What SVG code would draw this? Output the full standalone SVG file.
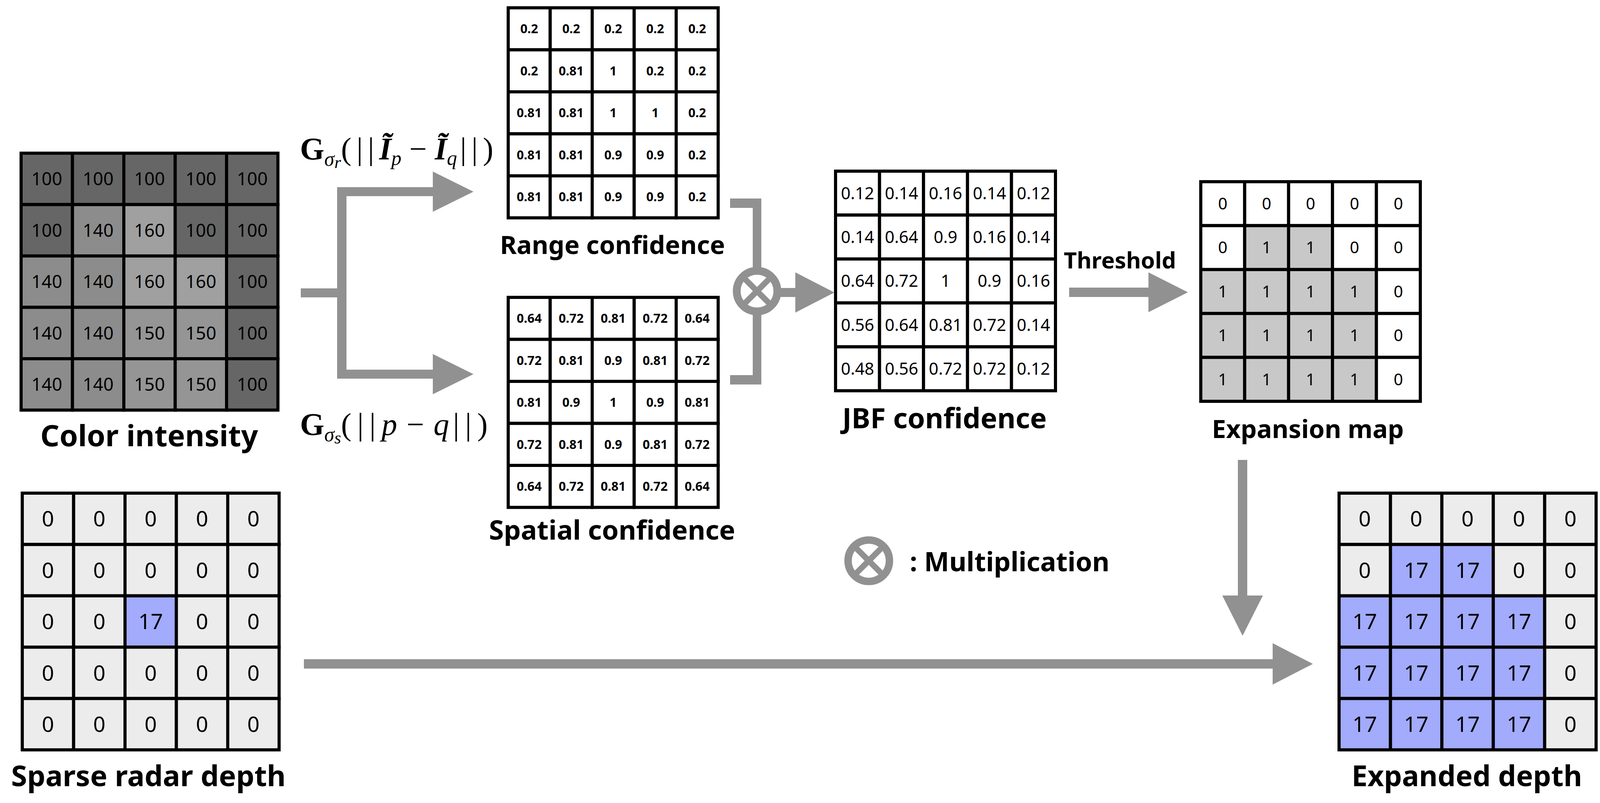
<svg xmlns="http://www.w3.org/2000/svg" width="4235" height="2055" viewBox="0 0 4235 2055">
<style>
.c{stroke:#000;stroke-width:8}
.w{fill:#fff}.lg{fill:#ececec}.bl{fill:#a2abfc}.eg{fill:#c8c8c8}
.g100{fill:#666666}.g140{fill:#8c8c8c}.g150{fill:#959595}.g160{fill:#a0a0a0}
.n{font-family:"Noto Sans","DejaVu Sans",sans-serif;text-anchor:middle;fill:#000}
.b{font-weight:700}
.lbl{font-family:"Noto Sans","DejaVu Sans",sans-serif;font-weight:700;text-anchor:middle;fill:#000}
.math{font-family:"Liberation Serif","Times New Roman",serif;fill:#000}
.arrow{fill:#919191}
.ox{fill:none;stroke:#919191}
</style>
<rect width="4235" height="2055" fill="#fff"/>

<g id="color-intensity">
<g class="c">
<rect class="g100" x="54" y="392" width="131.5" height="131.5"/><rect class="g100" x="185.5" y="392" width="131.5" height="131.5"/><rect class="g100" x="317" y="392" width="131.5" height="131.5"/><rect class="g100" x="448.5" y="392" width="131.5" height="131.5"/><rect class="g100" x="580" y="392" width="131.5" height="131.5"/>
<rect class="g100" x="54" y="523.5" width="131.5" height="131.5"/><rect class="g140" x="185.5" y="523.5" width="131.5" height="131.5"/><rect class="g160" x="317" y="523.5" width="131.5" height="131.5"/><rect class="g100" x="448.5" y="523.5" width="131.5" height="131.5"/><rect class="g100" x="580" y="523.5" width="131.5" height="131.5"/>
<rect class="g140" x="54" y="655" width="131.5" height="131.5"/><rect class="g140" x="185.5" y="655" width="131.5" height="131.5"/><rect class="g160" x="317" y="655" width="131.5" height="131.5"/><rect class="g160" x="448.5" y="655" width="131.5" height="131.5"/><rect class="g100" x="580" y="655" width="131.5" height="131.5"/>
<rect class="g140" x="54" y="786.5" width="131.5" height="131.5"/><rect class="g140" x="185.5" y="786.5" width="131.5" height="131.5"/><rect class="g150" x="317" y="786.5" width="131.5" height="131.5"/><rect class="g150" x="448.5" y="786.5" width="131.5" height="131.5"/><rect class="g100" x="580" y="786.5" width="131.5" height="131.5"/>
<rect class="g140" x="54" y="918" width="131.5" height="131.5"/><rect class="g140" x="185.5" y="918" width="131.5" height="131.5"/><rect class="g150" x="317" y="918" width="131.5" height="131.5"/><rect class="g150" x="448.5" y="918" width="131.5" height="131.5"/><rect class="g100" x="580" y="918" width="131.5" height="131.5"/>
</g>
<g class="n" font-size="46">
<text x="119.75" y="474">100</text><text x="251.25" y="474">100</text><text x="382.75" y="474">100</text><text x="514.25" y="474">100</text><text x="645.75" y="474">100</text>
<text x="119.75" y="606">100</text><text x="251.25" y="606">140</text><text x="382.75" y="606">160</text><text x="514.25" y="606">100</text><text x="645.75" y="606">100</text>
<text x="119.75" y="737">140</text><text x="251.25" y="737">140</text><text x="382.75" y="737">160</text><text x="514.25" y="737">160</text><text x="645.75" y="737">100</text>
<text x="119.75" y="869">140</text><text x="251.25" y="869">140</text><text x="382.75" y="869">150</text><text x="514.25" y="869">150</text><text x="645.75" y="869">100</text>
<text x="119.75" y="1000">140</text><text x="251.25" y="1000">140</text><text x="382.75" y="1000">150</text><text x="514.25" y="1000">150</text><text x="645.75" y="1000">100</text>
</g>
<text class="lbl" x="382" y="1142" font-size="76">Color intensity</text>
</g>

<g id="range-confidence">
<g class="c w">
<rect x="1301" y="20" width="107.5" height="107.5"/><rect x="1408.5" y="20" width="107.5" height="107.5"/><rect x="1516" y="20" width="107.5" height="107.5"/><rect x="1623.5" y="20" width="107.5" height="107.5"/><rect x="1731" y="20" width="107.5" height="107.5"/>
<rect x="1301" y="127.5" width="107.5" height="107.5"/><rect x="1408.5" y="127.5" width="107.5" height="107.5"/><rect x="1516" y="127.5" width="107.5" height="107.5"/><rect x="1623.5" y="127.5" width="107.5" height="107.5"/><rect x="1731" y="127.5" width="107.5" height="107.5"/>
<rect x="1301" y="235" width="107.5" height="107.5"/><rect x="1408.5" y="235" width="107.5" height="107.5"/><rect x="1516" y="235" width="107.5" height="107.5"/><rect x="1623.5" y="235" width="107.5" height="107.5"/><rect x="1731" y="235" width="107.5" height="107.5"/>
<rect x="1301" y="342.5" width="107.5" height="107.5"/><rect x="1408.5" y="342.5" width="107.5" height="107.5"/><rect x="1516" y="342.5" width="107.5" height="107.5"/><rect x="1623.5" y="342.5" width="107.5" height="107.5"/><rect x="1731" y="342.5" width="107.5" height="107.5"/>
<rect x="1301" y="450" width="107.5" height="107.5"/><rect x="1408.5" y="450" width="107.5" height="107.5"/><rect x="1516" y="450" width="107.5" height="107.5"/><rect x="1623.5" y="450" width="107.5" height="107.5"/><rect x="1731" y="450" width="107.5" height="107.5"/>
</g>
<g class="n b" font-size="32">
<text x="1354.75" y="85">0.2</text><text x="1462.25" y="85">0.2</text><text x="1569.75" y="85">0.2</text><text x="1677.25" y="85">0.2</text><text x="1784.75" y="85">0.2</text>
<text x="1354.75" y="193">0.2</text><text x="1462.25" y="193">0.81</text><text x="1569.75" y="193">1</text><text x="1677.25" y="193">0.2</text><text x="1784.75" y="193">0.2</text>
<text x="1354.75" y="300">0.81</text><text x="1462.25" y="300">0.81</text><text x="1569.75" y="300">1</text><text x="1677.25" y="300">1</text><text x="1784.75" y="300">0.2</text>
<text x="1354.75" y="408">0.81</text><text x="1462.25" y="408">0.81</text><text x="1569.75" y="408">0.9</text><text x="1677.25" y="408">0.9</text><text x="1784.75" y="408">0.2</text>
<text x="1354.75" y="515">0.81</text><text x="1462.25" y="515">0.81</text><text x="1569.75" y="515">0.9</text><text x="1677.25" y="515">0.9</text><text x="1784.75" y="515">0.2</text>
</g>
<text class="lbl" x="1568" y="650" font-size="65">Range confidence</text>
</g>

<g id="spatial-confidence">
<g class="c w">
<rect x="1301" y="761" width="107.5" height="107.5"/><rect x="1408.5" y="761" width="107.5" height="107.5"/><rect x="1516" y="761" width="107.5" height="107.5"/><rect x="1623.5" y="761" width="107.5" height="107.5"/><rect x="1731" y="761" width="107.5" height="107.5"/>
<rect x="1301" y="868.5" width="107.5" height="107.5"/><rect x="1408.5" y="868.5" width="107.5" height="107.5"/><rect x="1516" y="868.5" width="107.5" height="107.5"/><rect x="1623.5" y="868.5" width="107.5" height="107.5"/><rect x="1731" y="868.5" width="107.5" height="107.5"/>
<rect x="1301" y="976" width="107.5" height="107.5"/><rect x="1408.5" y="976" width="107.5" height="107.5"/><rect x="1516" y="976" width="107.5" height="107.5"/><rect x="1623.5" y="976" width="107.5" height="107.5"/><rect x="1731" y="976" width="107.5" height="107.5"/>
<rect x="1301" y="1083.5" width="107.5" height="107.5"/><rect x="1408.5" y="1083.5" width="107.5" height="107.5"/><rect x="1516" y="1083.5" width="107.5" height="107.5"/><rect x="1623.5" y="1083.5" width="107.5" height="107.5"/><rect x="1731" y="1083.5" width="107.5" height="107.5"/>
<rect x="1301" y="1191" width="107.5" height="107.5"/><rect x="1408.5" y="1191" width="107.5" height="107.5"/><rect x="1516" y="1191" width="107.5" height="107.5"/><rect x="1623.5" y="1191" width="107.5" height="107.5"/><rect x="1731" y="1191" width="107.5" height="107.5"/>
</g>
<g class="n b" font-size="32">
<text x="1354.75" y="826">0.64</text><text x="1462.25" y="826">0.72</text><text x="1569.75" y="826">0.81</text><text x="1677.25" y="826">0.72</text><text x="1784.75" y="826">0.64</text>
<text x="1354.75" y="934">0.72</text><text x="1462.25" y="934">0.81</text><text x="1569.75" y="934">0.9</text><text x="1677.25" y="934">0.81</text><text x="1784.75" y="934">0.72</text>
<text x="1354.75" y="1041">0.81</text><text x="1462.25" y="1041">0.9</text><text x="1569.75" y="1041">1</text><text x="1677.25" y="1041">0.9</text><text x="1784.75" y="1041">0.81</text>
<text x="1354.75" y="1149">0.72</text><text x="1462.25" y="1149">0.81</text><text x="1569.75" y="1149">0.9</text><text x="1677.25" y="1149">0.81</text><text x="1784.75" y="1149">0.72</text>
<text x="1354.75" y="1256">0.64</text><text x="1462.25" y="1256">0.72</text><text x="1569.75" y="1256">0.81</text><text x="1677.25" y="1256">0.72</text><text x="1784.75" y="1256">0.64</text>
</g>
<text class="lbl" x="1567" y="1381" font-size="69">Spatial confidence</text>
</g>

<g id="jbf-confidence">
<g class="c w">
<rect x="2139" y="438" width="112.6" height="112.4"/><rect x="2251.6" y="438" width="112.6" height="112.4"/><rect x="2364.2" y="438" width="112.6" height="112.4"/><rect x="2476.8" y="438" width="112.6" height="112.4"/><rect x="2589.4" y="438" width="112.6" height="112.4"/>
<rect x="2139" y="550.4" width="112.6" height="112.4"/><rect x="2251.6" y="550.4" width="112.6" height="112.4"/><rect x="2364.2" y="550.4" width="112.6" height="112.4"/><rect x="2476.8" y="550.4" width="112.6" height="112.4"/><rect x="2589.4" y="550.4" width="112.6" height="112.4"/>
<rect x="2139" y="662.8" width="112.6" height="112.4"/><rect x="2251.6" y="662.8" width="112.6" height="112.4"/><rect x="2364.2" y="662.8" width="112.6" height="112.4"/><rect x="2476.8" y="662.8" width="112.6" height="112.4"/><rect x="2589.4" y="662.8" width="112.6" height="112.4"/>
<rect x="2139" y="775.2" width="112.6" height="112.4"/><rect x="2251.6" y="775.2" width="112.6" height="112.4"/><rect x="2364.2" y="775.2" width="112.6" height="112.4"/><rect x="2476.8" y="775.2" width="112.6" height="112.4"/><rect x="2589.4" y="775.2" width="112.6" height="112.4"/>
<rect x="2139" y="887.6" width="112.6" height="112.4"/><rect x="2251.6" y="887.6" width="112.6" height="112.4"/><rect x="2364.2" y="887.6" width="112.6" height="112.4"/><rect x="2476.8" y="887.6" width="112.6" height="112.4"/><rect x="2589.4" y="887.6" width="112.6" height="112.4"/>
</g>
<g class="n" font-size="43">
<text x="2195.3" y="509.6">0.12</text><text x="2307.9" y="509.6">0.14</text><text x="2420.5" y="509.6">0.16</text><text x="2533.1" y="509.6">0.14</text><text x="2645.7" y="509.6">0.12</text>
<text x="2195.3" y="622">0.14</text><text x="2307.9" y="622">0.64</text><text x="2420.5" y="622">0.9</text><text x="2533.1" y="622">0.16</text><text x="2645.7" y="622">0.14</text>
<text x="2195.3" y="734.4">0.64</text><text x="2307.9" y="734.4">0.72</text><text x="2420.5" y="734.4">1</text><text x="2533.1" y="734.4">0.9</text><text x="2645.7" y="734.4">0.16</text>
<text x="2195.3" y="846.8">0.56</text><text x="2307.9" y="846.8">0.64</text><text x="2420.5" y="846.8">0.81</text><text x="2533.1" y="846.8">0.72</text><text x="2645.7" y="846.8">0.14</text>
<text x="2195.3" y="959.2">0.48</text><text x="2307.9" y="959.2">0.56</text><text x="2420.5" y="959.2">0.72</text><text x="2533.1" y="959.2">0.72</text><text x="2645.7" y="959.2">0.12</text>
</g>
<text class="lbl" x="2418" y="1096" font-size="72">JBF confidence</text>
</g>

<g id="expansion-map">
<g class="c">
<rect class="w" x="3074" y="465" width="112.4" height="112.4"/><rect class="w" x="3186.4" y="465" width="112.4" height="112.4"/><rect class="w" x="3298.8" y="465" width="112.4" height="112.4"/><rect class="w" x="3411.2" y="465" width="112.4" height="112.4"/><rect class="w" x="3523.6" y="465" width="112.4" height="112.4"/>
<rect class="w" x="3074" y="577.4" width="112.4" height="112.4"/><rect class="eg" x="3186.4" y="577.4" width="112.4" height="112.4"/><rect class="eg" x="3298.8" y="577.4" width="112.4" height="112.4"/><rect class="w" x="3411.2" y="577.4" width="112.4" height="112.4"/><rect class="w" x="3523.6" y="577.4" width="112.4" height="112.4"/>
<rect class="eg" x="3074" y="689.8" width="112.4" height="112.4"/><rect class="eg" x="3186.4" y="689.8" width="112.4" height="112.4"/><rect class="eg" x="3298.8" y="689.8" width="112.4" height="112.4"/><rect class="eg" x="3411.2" y="689.8" width="112.4" height="112.4"/><rect class="w" x="3523.6" y="689.8" width="112.4" height="112.4"/>
<rect class="eg" x="3074" y="802.2" width="112.4" height="112.4"/><rect class="eg" x="3186.4" y="802.2" width="112.4" height="112.4"/><rect class="eg" x="3298.8" y="802.2" width="112.4" height="112.4"/><rect class="eg" x="3411.2" y="802.2" width="112.4" height="112.4"/><rect class="w" x="3523.6" y="802.2" width="112.4" height="112.4"/>
<rect class="eg" x="3074" y="914.6" width="112.4" height="112.4"/><rect class="eg" x="3186.4" y="914.6" width="112.4" height="112.4"/><rect class="eg" x="3298.8" y="914.6" width="112.4" height="112.4"/><rect class="eg" x="3411.2" y="914.6" width="112.4" height="112.4"/><rect class="w" x="3523.6" y="914.6" width="112.4" height="112.4"/>
</g>
<g class="n" font-size="42">
<text x="3130.2" y="536">0</text><text x="3242.6" y="536">0</text><text x="3355" y="536">0</text><text x="3467.4" y="536">0</text><text x="3579.8" y="536">0</text>
<text x="3130.2" y="648.4">0</text><text x="3242.6" y="648.4">1</text><text x="3355" y="648.4">1</text><text x="3467.4" y="648.4">0</text><text x="3579.8" y="648.4">0</text>
<text x="3130.2" y="760.8">1</text><text x="3242.6" y="760.8">1</text><text x="3355" y="760.8">1</text><text x="3467.4" y="760.8">1</text><text x="3579.8" y="760.8">0</text>
<text x="3130.2" y="873.2">1</text><text x="3242.6" y="873.2">1</text><text x="3355" y="873.2">1</text><text x="3467.4" y="873.2">1</text><text x="3579.8" y="873.2">0</text>
<text x="3130.2" y="985.6">1</text><text x="3242.6" y="985.6">1</text><text x="3355" y="985.6">1</text><text x="3467.4" y="985.6">1</text><text x="3579.8" y="985.6">0</text>
</g>
<text class="lbl" x="3348" y="1121" font-size="65">Expansion map</text>
</g>

<g id="sparse-radar-depth">
<g class="c">
<rect class="lg" x="57" y="1262" width="131.5" height="131.4"/><rect class="lg" x="188.5" y="1262" width="131.5" height="131.4"/><rect class="lg" x="320" y="1262" width="131.5" height="131.4"/><rect class="lg" x="451.5" y="1262" width="131.5" height="131.4"/><rect class="lg" x="583" y="1262" width="131.5" height="131.4"/>
<rect class="lg" x="57" y="1393.4" width="131.5" height="131.4"/><rect class="lg" x="188.5" y="1393.4" width="131.5" height="131.4"/><rect class="lg" x="320" y="1393.4" width="131.5" height="131.4"/><rect class="lg" x="451.5" y="1393.4" width="131.5" height="131.4"/><rect class="lg" x="583" y="1393.4" width="131.5" height="131.4"/>
<rect class="lg" x="57" y="1524.8" width="131.5" height="131.4"/><rect class="lg" x="188.5" y="1524.8" width="131.5" height="131.4"/><rect class="bl" x="320" y="1524.8" width="131.5" height="131.4"/><rect class="lg" x="451.5" y="1524.8" width="131.5" height="131.4"/><rect class="lg" x="583" y="1524.8" width="131.5" height="131.4"/>
<rect class="lg" x="57" y="1656.2" width="131.5" height="131.4"/><rect class="lg" x="188.5" y="1656.2" width="131.5" height="131.4"/><rect class="lg" x="320" y="1656.2" width="131.5" height="131.4"/><rect class="lg" x="451.5" y="1656.2" width="131.5" height="131.4"/><rect class="lg" x="583" y="1656.2" width="131.5" height="131.4"/>
<rect class="lg" x="57" y="1787.6" width="131.5" height="131.4"/><rect class="lg" x="188.5" y="1787.6" width="131.5" height="131.4"/><rect class="lg" x="320" y="1787.6" width="131.5" height="131.4"/><rect class="lg" x="451.5" y="1787.6" width="131.5" height="131.4"/><rect class="lg" x="583" y="1787.6" width="131.5" height="131.4"/>
</g>
<g class="n" font-size="55">
<text x="122.75" y="1347.3">0</text><text x="254.25" y="1347.3">0</text><text x="385.75" y="1347.3">0</text><text x="517.25" y="1347.3">0</text><text x="648.75" y="1347.3">0</text>
<text x="122.75" y="1478.7">0</text><text x="254.25" y="1478.7">0</text><text x="385.75" y="1478.7">0</text><text x="517.25" y="1478.7">0</text><text x="648.75" y="1478.7">0</text>
<text x="122.75" y="1610.1">0</text><text x="254.25" y="1610.1">0</text><text x="385.75" y="1610.1">17</text><text x="517.25" y="1610.1">0</text><text x="648.75" y="1610.1">0</text>
<text x="122.75" y="1741.5">0</text><text x="254.25" y="1741.5">0</text><text x="385.75" y="1741.5">0</text><text x="517.25" y="1741.5">0</text><text x="648.75" y="1741.5">0</text>
<text x="122.75" y="1872.9">0</text><text x="254.25" y="1872.9">0</text><text x="385.75" y="1872.9">0</text><text x="517.25" y="1872.9">0</text><text x="648.75" y="1872.9">0</text>
</g>
<text class="lbl" x="380" y="2012" font-size="74">Sparse radar depth</text>
</g>

<g id="expanded-depth" transform="translate(-128 0)">
<g class="c">
<rect class="lg" x="3556" y="1262" width="131.6" height="131.4"/><rect class="lg" x="3687.6" y="1262" width="131.6" height="131.4"/><rect class="lg" x="3819.2" y="1262" width="131.6" height="131.4"/><rect class="lg" x="3950.8" y="1262" width="131.6" height="131.4"/><rect class="lg" x="4082.4" y="1262" width="131.6" height="131.4"/>
<rect class="lg" x="3556" y="1393.4" width="131.6" height="131.4"/><rect class="bl" x="3687.6" y="1393.4" width="131.6" height="131.4"/><rect class="bl" x="3819.2" y="1393.4" width="131.6" height="131.4"/><rect class="lg" x="3950.8" y="1393.4" width="131.6" height="131.4"/><rect class="lg" x="4082.4" y="1393.4" width="131.6" height="131.4"/>
<rect class="bl" x="3556" y="1524.8" width="131.6" height="131.4"/><rect class="bl" x="3687.6" y="1524.8" width="131.6" height="131.4"/><rect class="bl" x="3819.2" y="1524.8" width="131.6" height="131.4"/><rect class="bl" x="3950.8" y="1524.8" width="131.6" height="131.4"/><rect class="lg" x="4082.4" y="1524.8" width="131.6" height="131.4"/>
<rect class="bl" x="3556" y="1656.2" width="131.6" height="131.4"/><rect class="bl" x="3687.6" y="1656.2" width="131.6" height="131.4"/><rect class="bl" x="3819.2" y="1656.2" width="131.6" height="131.4"/><rect class="bl" x="3950.8" y="1656.2" width="131.6" height="131.4"/><rect class="lg" x="4082.4" y="1656.2" width="131.6" height="131.4"/>
<rect class="bl" x="3556" y="1787.6" width="131.6" height="131.4"/><rect class="bl" x="3687.6" y="1787.6" width="131.6" height="131.4"/><rect class="bl" x="3819.2" y="1787.6" width="131.6" height="131.4"/><rect class="bl" x="3950.8" y="1787.6" width="131.6" height="131.4"/><rect class="lg" x="4082.4" y="1787.6" width="131.6" height="131.4"/>
</g>
<g class="n" font-size="55">
<text x="3621.8" y="1347.3">0</text><text x="3753.4" y="1347.3">0</text><text x="3885" y="1347.3">0</text><text x="4016.6" y="1347.3">0</text><text x="4148.2" y="1347.3">0</text>
<text x="3621.8" y="1478.7">0</text><text x="3753.4" y="1478.7">17</text><text x="3885" y="1478.7">17</text><text x="4016.6" y="1478.7">0</text><text x="4148.2" y="1478.7">0</text>
<text x="3621.8" y="1610.1">17</text><text x="3753.4" y="1610.1">17</text><text x="3885" y="1610.1">17</text><text x="4016.6" y="1610.1">17</text><text x="4148.2" y="1610.1">0</text>
<text x="3621.8" y="1741.5">17</text><text x="3753.4" y="1741.5">17</text><text x="3885" y="1741.5">17</text><text x="4016.6" y="1741.5">17</text><text x="4148.2" y="1741.5">0</text>
<text x="3621.8" y="1872.9">17</text><text x="3753.4" y="1872.9">17</text><text x="3885" y="1872.9">17</text><text x="4016.6" y="1872.9">17</text><text x="4148.2" y="1872.9">0</text>
</g>
<text class="lbl" x="3883" y="2012" font-size="73">Expanded depth</text>
</g>

<g id="connectors">
<rect class="arrow" x="770" y="738" width="105" height="23"/>
<rect class="arrow" x="863" y="479" width="24" height="490"/>
<rect class="arrow" x="863" y="479" width="250" height="23"/>
<polygon class="arrow" points="1108,439 1212,490.5 1108,542"/>
<rect class="arrow" x="863" y="946" width="250" height="23"/>
<polygon class="arrow" points="1108,906 1212,957.5 1108,1009"/>
<rect class="arrow" x="1869" y="508" width="80" height="24"/>
<rect class="arrow" x="1927" y="508" width="22" height="180"/>
<rect class="arrow" x="1869" y="960" width="80" height="24"/>
<rect class="arrow" x="1927" y="802" width="22" height="182"/>
<rect class="arrow" x="1995" y="737" width="45" height="23"/>
<polygon class="arrow" points="2036,697 2136,748.5 2036,800"/>
<rect class="arrow" x="2737" y="736" width="206" height="24"/>
<polygon class="arrow" points="2940,697 3041,748 2940,799"/>
<rect class="arrow" x="3169" y="1177" width="24" height="350"/>
<polygon class="arrow" points="3129,1524 3181,1627 3233,1524"/>
<rect class="arrow" x="778" y="1687" width="2484" height="24"/>
<polygon class="arrow" points="3258,1646 3361,1699 3258,1752"/>
</g>

<g id="range-kernel-label">
<text class="math" x="768" y="408" font-size="80"><tspan font-weight="bold">G</tspan><tspan font-style="italic" font-size="52" dy="16">σ</tspan><tspan font-style="italic" font-size="44" dy="6">r</tspan><tspan dy="-22" letter-spacing="13">(||</tspan><tspan font-style="italic" font-weight="bold">Ĩ</tspan><tspan font-style="italic" font-size="52" dy="14">p</tspan><tspan dy="-14"> − </tspan><tspan font-style="italic" font-weight="bold">Ĩ</tspan><tspan font-style="italic" font-size="52" dy="14">q</tspan><tspan dy="-14" dx="8" letter-spacing="13">||)</tspan></text>
</g>
<g id="spatial-kernel-label">
<text class="math" x="768" y="1113" font-size="80"><tspan font-weight="bold">G</tspan><tspan font-style="italic" font-size="52" dy="16">σ</tspan><tspan font-style="italic" font-size="44" dy="6">s</tspan><tspan dy="-22" letter-spacing="15">(||</tspan><tspan font-style="italic">p</tspan><tspan dx="24">−</tspan><tspan dx="24" font-style="italic">q</tspan><tspan dx="10" letter-spacing="15">||)</tspan></text>
</g>

<g id="threshold-label">
<text class="lbl" x="2867" y="687" font-size="58">Threshold</text>
</g>

<g id="multiply">
<circle class="ox" cx="1938" cy="745" r="52" stroke-width="20"/>
<line class="ox" x1="1905" y1="712" x2="1971" y2="778" stroke-width="15"/>
<line class="ox" x1="1971" y1="712" x2="1905" y2="778" stroke-width="15"/>
</g>

<g id="legend">
<circle class="ox" cx="2224" cy="1435" r="53" stroke-width="19"/>
<line class="ox" x1="2191" y1="1402" x2="2257" y2="1468" stroke-width="15"/>
<line class="ox" x1="2257" y1="1402" x2="2191" y2="1468" stroke-width="15"/>
<text class="lbl" x="2329" y="1462" font-size="68" style="text-anchor:start">: Multiplication</text>
</g>
</svg>
